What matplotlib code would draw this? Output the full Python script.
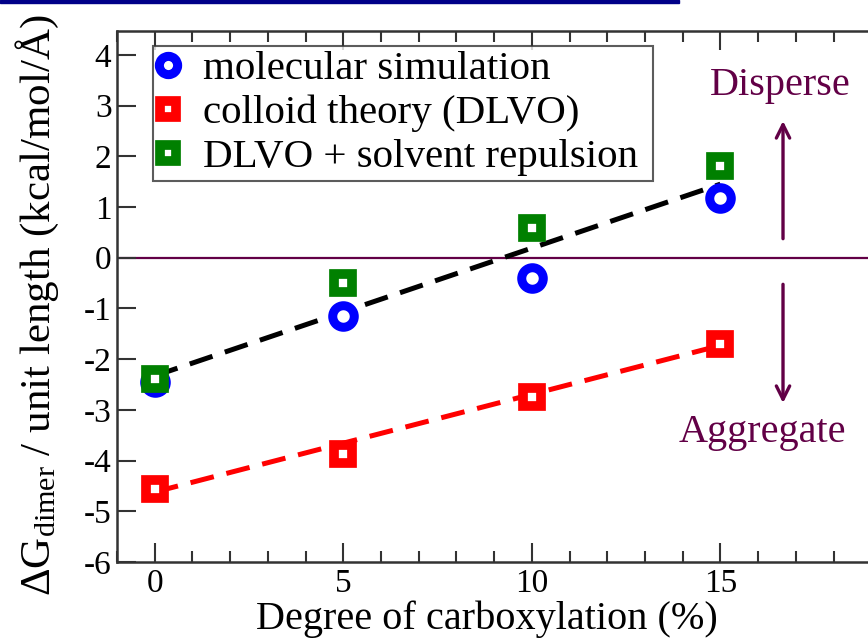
#!/usr/bin/env python3
"""Dimer free energy vs degree of carboxylation: simulation vs DLVO."""

import matplotlib

matplotlib.use("Agg")
import matplotlib.pyplot as plt
from matplotlib.patches import Rectangle
from matplotlib.ticker import FuncFormatter, MultipleLocator

carboxylation = [0, 5, 10, 15]
molecular_sim = [-2.45, -1.15, -0.40, 1.18]
dlvo = [-4.57, -3.88, -2.74, -1.70]
dlvo_solvent = [-2.40, -0.49, 0.59, 1.81]

fit_x = [0, 15]
fit_sim = [-2.33, 1.45]
fit_dlvo = [-4.62, -1.73]

series_labels = ["molecular simulation", "colloid theory (DLVO)", "DLVO + solvent repulsion "]

MAROON = "#620046"

plt.rcParams["font.family"] = ["Liberation Serif", "DejaVu Serif"]
plt.rcParams["mathtext.fontset"] = "custom"
plt.rcParams["mathtext.rm"] = "Liberation Serif"
plt.rcParams["mathtext.it"] = "Liberation Serif:italic"
plt.rcParams["axes.unicode_minus"] = False

fig = plt.figure(figsize=(8.68, 6.39), dpi=100)
ax = fig.add_axes([0.1348, 0.1205, 0.9124, 0.831])

# header strip at the top of the page
fig.patches.append(Rectangle((0, 0.995), 0.782, 0.005, transform=fig.transFigure,
                             color="#000088", zorder=5))

dash = (0, (4.8, 2.6))
ax.axhline(0, color=MAROON, lw=1.6, zorder=1)
ax.plot(fit_x, fit_sim, ls=dash, color="black", lw=3.6, zorder=2)
ax.plot(fit_x, fit_dlvo, ls=dash, color="#ff0000", lw=3.6, zorder=2)

sim, = ax.plot(carboxylation, molecular_sim, "o", ms=15.5, mew=6.5, mec="#0000ff",
               mfc="white", ls="none", zorder=3, label=series_labels[0])
dl, = ax.plot(carboxylation, dlvo, "s", ms=13.5, mew=7, mec="#ff0000",
              mfc="white", ls="none", zorder=4, label=series_labels[1])
dls, = ax.plot(carboxylation, dlvo_solvent, "s", ms=13.5, mew=7, mec="#008000",
               mfc="white", ls="none", zorder=4, label=series_labels[2])

ax.set_xlim(-1, 20)
ax.set_ylim(-6, 4.47)
ax.xaxis.set_major_locator(MultipleLocator(5))
ax.xaxis.set_minor_locator(MultipleLocator(1))
ax.xaxis.set_major_formatter(FuncFormatter(lambda v, _: "" if v > 15 else f"{v:.0f}"))
ax.yaxis.set_major_locator(MultipleLocator(1))
ax.tick_params(which="both", direction="in", top=True, right=True,
               color="#333333", labelsize=24, width=1.5)
ax.tick_params(axis="y", which="major", length=14, pad=4)
ax.tick_params(axis="x", which="major", length=14, pad=5)
ax.tick_params(which="minor", length=8)
for spine in ax.spines.values():
    spine.set_color("#333333")
    spine.set_linewidth(1.8)

ax.set_xlabel("Degree of carboxylation (%)", fontsize=29)
ax.set_ylabel(r"$\Delta$G$_{\rm dimer}$ / unit length (kcal/mol/Å)", fontsize=31)
ax.xaxis.set_label_coords(0.467, -0.107)
ax.yaxis.set_label_coords(-0.101, 0.484)
ax.xaxis.label.set_va("center")
ax.yaxis.label.set_va("center")

leg = ax.legend(handles=[sim, dl, dls], loc="upper left", bbox_to_anchor=(0.0455, 0.972),
                borderaxespad=0, fontsize=29.5, frameon=True, fancybox=False,
                handlelength=0.5, handletextpad=0.6, labelspacing=0.15,
                borderpad=0.12, markerscale=0.85)
leg.get_frame().set_edgecolor("#333333")
leg.get_frame().set_linewidth(1.5)

ax.annotate("", xy=(16.66, 2.75), xytext=(16.66, 0.32),
            arrowprops=dict(arrowstyle="->", color=MAROON, lw=2.4, mutation_scale=24))
ax.annotate("", xy=(16.66, -2.92), xytext=(16.66, -0.47),
            arrowprops=dict(arrowstyle="->", color=MAROON, lw=2.4, mutation_scale=24))
ax.text(16.6, 3.4, "Disperse", color=MAROON, fontsize=29, ha="center", va="center")
ax.text(16.1, -3.45, "Aggregate", color=MAROON, fontsize=29, ha="center", va="center")

fig.savefig("out.png", dpi=100)
